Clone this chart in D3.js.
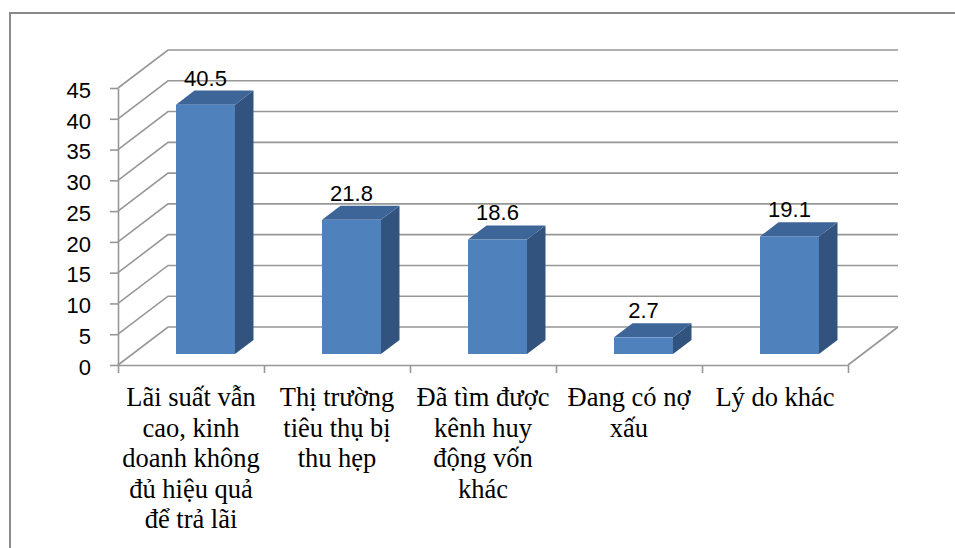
<!DOCTYPE html>
<html>
<head>
<meta charset="utf-8">
<script src="https://cdn.jsdelivr.net/npm/d3@7"></script>
<style>
  html, body { margin: 0; padding: 0; background: #ffffff; }
  svg { display: block; }
  .cat text, .cat tspan { font-family: "Liberation Serif", "Times New Roman", serif; }
</style>
</head>
<body>
<svg id="chart" width="955" height="548"></svg>
<script>
// ---- data ----
const categories = [
  "Lãi suất vẫn\ncao, kinh\ndoanh không\nđủ hiệu quả\nđể trả lãi",
  "Thị trường\ntiêu thụ bị\nthu hẹp",
  "Đã tìm được\nkênh huy\nđộng vốn\nkhác",
  "Đang có nợ\nxấu",
  "Lý do khác"
];
const values = [40.5, 21.8, 18.6, 2.7, 19.1];
const yTicks = [0, 5, 10, 15, 20, 25, 30, 35, 40, 45];
const valueLabels = ["40.5", "21.8", "18.6", "2.7", "19.1"];

// ---- layout ----
const svg = d3.select("#chart");
const x0 = 118, x1 = 848;           // front plane extent
const DX = 50, DY = -38;            // full depth offset
const f0 = 0.29, f1 = 0.66;         // bar depth fraction (front, back)

const y = d3.scaleLinear().domain([0, 45]).range([365, 88]);
const xBand = d3.scaleBand().domain(categories).range([x0, x1])
  .paddingInner(0.596).paddingOuter(0.298);
const xEdge = d3.scaleLinear().domain([0, categories.length]).range([x0, x1]);

const gridColor = "#979797";

// outer border
svg.append("rect")
  .attr("x", 10).attr("y", 13).attr("width", 1000).attr("height", 600)
  .attr("fill", "none").attr("stroke", "#8a8a8a").attr("stroke-width", 2);

// walls / gridlines
const grid = svg.append("g").attr("fill", "none").attr("stroke", gridColor).attr("stroke-width", 1.6);
yTicks.forEach(t => {
  const yy = y(t);
  grid.append("path")
    .attr("d", `M${x0},${yy} L${x0 + DX},${yy + DY} L${x1 + DX},${yy + DY}`);
});
grid.append("path").attr("d", `M${x1},${y(0)} L${x1 + DX},${y(0) + DY}`);

// bars
const bars = svg.append("g");
values.forEach((v, i) => {
  const c = categories[i];
  const bx = xBand(c) + f0 * DX;
  const bw = xBand.bandwidth();
  const by0 = y(0) + f0 * DY;
  const byT = y(v) + f0 * DY;
  const ddx = (f1 - f0) * DX, ddy = (f1 - f0) * DY;
  bars.append("path")
    .attr("d", `M${bx + bw},${by0} L${bx + bw + ddx},${by0 + ddy} L${bx + bw + ddx},${byT + ddy} L${bx + bw},${byT} Z`)
    .attr("fill", "#31537d");
  bars.append("path")
    .attr("d", `M${bx},${byT} L${bx + ddx},${byT + ddy} L${bx + bw + ddx},${byT + ddy} L${bx + bw},${byT} Z`)
    .attr("fill", "#3e6597");
  bars.append("rect")
    .attr("x", bx).attr("y", byT).attr("width", bw).attr("height", by0 - byT)
    .attr("fill", "#4f81bd");
  svg.append("text")
    .attr("x", bx + bw / 2).attr("y", byT - 19)
    .attr("text-anchor", "middle")
    .attr("font-family", "'Liberation Sans', Arial, sans-serif")
    .attr("font-size", 22).attr("fill", "#000")
    .text(valueLabels[i]);
});

// y axis
const yAxis = d3.axisLeft(y).tickValues(yTicks).tickSize(8).tickSizeOuter(0).tickPadding(19);
const gy = svg.append("g").attr("transform", `translate(${x0},0)`).call(yAxis);
gy.select(".domain").attr("stroke", gridColor).attr("stroke-width", 1.6);
gy.selectAll(".tick line").attr("stroke", gridColor).attr("stroke-width", 1.6);
gy.selectAll(".tick text")
  .attr("font-family", "'Liberation Sans', Arial, sans-serif")
  .attr("font-size", 22).attr("fill", "#000").attr("dy", "0.42em");

// x axis (ticks at category boundaries)
const xAxis = d3.axisBottom(xEdge).tickValues(d3.range(categories.length + 1))
  .tickSize(8).tickSizeOuter(0).tickFormat("");
const gx = svg.append("g").attr("transform", `translate(0,${y(0)})`).call(xAxis);
gx.select(".domain").attr("stroke", gridColor).attr("stroke-width", 1.6);
gx.selectAll(".tick line").attr("stroke", gridColor).attr("stroke-width", 1.6);

// category labels
const catG = svg.append("g").attr("class", "cat")
  .attr("font-size", 26.5).attr("fill", "#000").attr("text-anchor", "middle");
categories.forEach((c, i) => {
  const cx = (xEdge(i) + xEdge(i + 1)) / 2;
  const t = catG.append("text").attr("x", cx).attr("y", 406);
  c.split("\n").forEach((line, k) => {
    t.append("tspan").attr("x", cx).attr("y", 406 + k * 30.5).text(line);
  });
});
</script>
</body>
</html>
